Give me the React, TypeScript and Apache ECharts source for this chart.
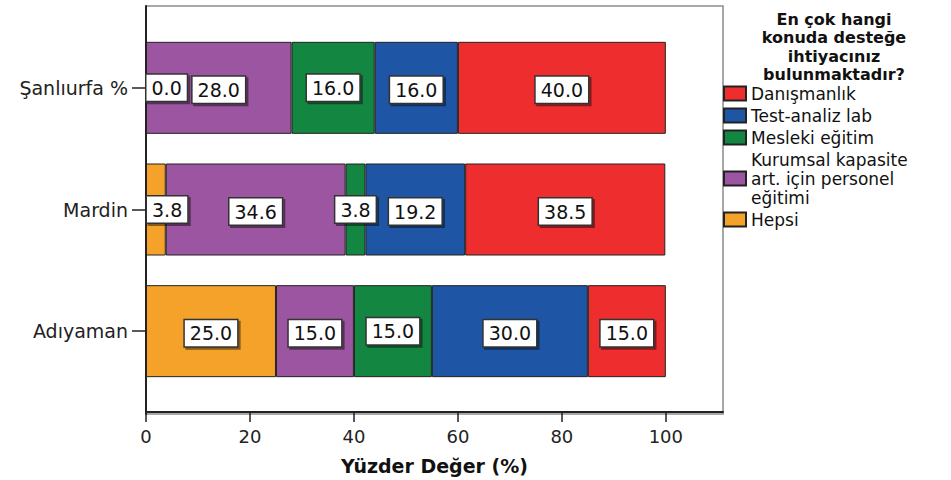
import React, { useEffect, useRef } from "react";
import * as echarts from "echarts";

const categories = ["Şanlıurfa %", "Mardin", "Adıyaman"];
const hepsi = [0.0, 3.8, 25.0];
const kurumsal = [28.0, 34.6, 15.0];
const mesleki = [16.0, 3.8, 15.0];
const testAnaliz = [16.0, 19.2, 30.0];
const danismanlik = [40.0, 38.5, 15.0];
const xTicks = [0, 20, 40, 60, 80, 100];

const NAME_DAN = "Danışmanlık";
const NAME_TEST = "Test-analiz lab";
const NAME_MES = "Mesleki eğitim";
const NAME_KUR = "Kurumsal kapasite\nart. için personel\neğitimi";
const NAME_HEP = "Hepsi";

const FONT = "DejaVu Sans";

export default function App() {
  const ref = useRef<HTMLDivElement>(null);
  useEffect(() => {
    if (!ref.current) return;
    const chart = echarts.init(ref.current, undefined, { renderer: "svg" });

    const labelBase = {
      show: true,
      position: "inside",
      offset: [0, 2],
      formatter: (p: any) => Number(p.value).toFixed(1),
      fontFamily: FONT,
      fontSize: 19,
      lineHeight: 19,
      color: "#111",
      backgroundColor: "#fff",
      borderColor: "#333",
      borderWidth: 1.5,
      padding: [4, 5, 3, 5],
      shadowColor: "rgba(0,0,0,0.45)",
      shadowOffsetX: 2,
      shadowOffsetY: 2,
      shadowBlur: 1,
    };

    // small segments get their label pushed to the segment's left edge, as in the reference
    const smallHepsi = (data: number[]) =>
      data.map((v) =>
        v < 10 ? { value: v, label: { position: "insideLeft", distance: 1, offset: [0, 0] } } : { value: v }
      );

    const mk = (name: string, data: any[], color: string, extraLabel: any = {}) => ({
      name,
      type: "bar",
      stack: "total",
      xAxisIndex: 0,
      yAxisIndex: 0,
      barWidth: 92,
      data,
      itemStyle: { color, borderColor: "#222", borderWidth: 1 },
      label: { ...labelBase, ...extraLabel },
      emphasis: { disabled: true },
    });

    chart.setOption({
      animation: false,
      grid: [
        { left: 146, right: 228, top: 27, bottom: 86 },
        {
          left: 146,
          right: 228,
          top: 6,
          bottom: 66,
          show: true,
          borderColor: "#8c8c8c",
          borderWidth: 1.5,
          backgroundColor: "transparent",
        },
      ],
      xAxis: [
        {
          type: "value",
          gridIndex: 0,
          min: 0,
          max: 111,
          offset: 20,
          axisLine: { show: true, lineStyle: { color: "#222", width: 2 } },
          axisTick: {
            show: true,
            length: 10,
            customValues: xTicks,
            lineStyle: { color: "#222", width: 1.5 },
          },
          axisLabel: {
            customValues: xTicks,
            fontFamily: FONT,
            fontSize: 18,
            color: "#222",
            margin: 15,
          },
          splitLine: { show: false },
          name: "Yüzder Değer (%)",
          nameLocation: "middle",
          nameGap: 44,
          nameTextStyle: { fontFamily: FONT, fontSize: 19, fontWeight: "bold", color: "#111" },
        },
        { type: "value", gridIndex: 1, show: false },
      ],
      yAxis: [
        {
          type: "category",
          gridIndex: 0,
          inverse: true,
          data: categories,
          axisLine: { show: false },
          axisTick: {
            show: true,
            alignWithLabel: true,
            length: 14,
            lineStyle: { color: "#222", width: 1.5 },
          },
          axisLabel: { fontFamily: FONT, fontSize: 19, color: "#222", margin: 18 },
          splitLine: { show: false },
        },
        {
          type: "value",
          gridIndex: 1,
          axisLine: { show: true, lineStyle: { color: "#222", width: 2 } },
          axisTick: { show: false },
          axisLabel: { show: false },
          splitLine: { show: false },
        },
      ],
      legend: {
        orient: "vertical",
        left: 723,
        top: 84,
        padding: 0,
        itemGap: 3,
        itemWidth: 22,
        itemHeight: 14,
        icon: "rect",
        selectedMode: false,
        data: [NAME_DAN, NAME_TEST, NAME_MES, NAME_KUR, NAME_HEP],
        textStyle: { fontFamily: FONT, fontSize: 17, lineHeight: 19, color: "#111" },
      },
      graphic: [
        {
          type: "text",
          x: 834,
          y: 10,
          style: {
            text: "En çok hangi\nkonuda desteğe\nihtiyacınız\nbulunmaktadır?",
            textAlign: "center",
            textVerticalAlign: "top",
            font: `bold 16px "${FONT}"`,
            lineHeight: 18.5,
            fill: "#111",
          },
        },
      ],
      series: [
        mk(NAME_HEP, smallHepsi(hepsi), "#F5A22A"),
        mk(NAME_KUR, kurumsal, "#9C55A0"),
        mk(NAME_MES, mesleki, "#138642", { offset: [0, 0] }),
        mk(NAME_TEST, testAnaliz, "#1F55A5"),
        mk(NAME_DAN, danismanlik, "#EE2E2E"),
      ],
    });
    return () => chart.dispose();
  }, []);
  return (
    <div
      ref={ref}
      style={{ position: "absolute", left: 0, top: 0, width: 951, height: 480, background: "#fff" }}
    />
  );
}
